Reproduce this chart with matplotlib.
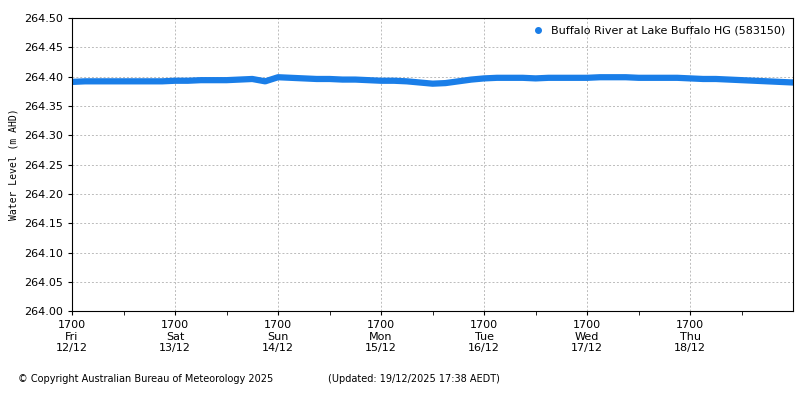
import matplotlib
matplotlib.use("Agg")
import matplotlib.pyplot as plt
import matplotlib.dates as mdates
import numpy as np
import pandas as pd

# 3-hourly water level readings from Fri 12/12 17:00
start = pd.Timestamp("2025-12-12 17:00")
levels = [
    264.391, 264.392, 264.392, 264.392, 264.392, 264.392, 264.392, 264.392,
    264.393, 264.393, 264.394, 264.394, 264.394, 264.395, 264.396, 264.392,
    264.399, 264.398, 264.397, 264.396, 264.396, 264.395, 264.395, 264.394,
    264.393, 264.393, 264.392, 264.390, 264.388, 264.389, 264.392, 264.395,
    264.397, 264.398, 264.398, 264.398, 264.397, 264.398, 264.398, 264.398,
    264.398, 264.399, 264.399, 264.399, 264.398, 264.398, 264.398, 264.398,
    264.397, 264.396, 264.396, 264.395, 264.394, 264.393, 264.392, 264.391,
    264.390,
]
times = pd.date_range(start, periods=len(levels), freq="3h")
day_labels = ["1700\nFri\n12/12", "1700\nSat\n13/12", "1700\nSun\n14/12", "1700\nMon\n15/12",
              "1700\nTue\n16/12", "1700\nWed\n17/12", "1700\nThu\n18/12"]
yticks = np.arange(264.00, 264.501, 0.05)

fig = plt.figure(figsize=(8, 4), dpi=100)
ax = fig.add_axes([0.09, 0.222, 0.9015, 0.733])
blue = "#1a7ee8"
ax.plot(times, levels, color=blue, lw=4.5, solid_capstyle="round")
ax.plot([], [], "o", color=blue, ms=4, label="Buffalo River at Lake Buffalo HG (583150)")
ax.legend(loc="upper right", frameon=False, fontsize=8, handletextpad=0.2, borderaxespad=0.3)

ax.set_ylim(264.0, 264.5)
ax.set_yticks(yticks)
ax.set_yticklabels([f"{v:.2f}" for v in yticks], fontsize=8)
ax.set_xlim(start, start + pd.Timedelta(days=7))
major = [start + pd.Timedelta(days=i) for i in range(7)]
ax.set_xticks(major)
ax.set_xticklabels(day_labels, fontsize=8)
ax.set_xticks([start + pd.Timedelta(hours=12 + 24 * i) for i in range(7)], minor=True)
ax.tick_params(which="both", direction="out", length=3)
ax.grid(True, which="major", ls=(0, (2, 2)), color="#bbbbbb", lw=0.7)
ax.set_ylabel("Water Level (m AHD)", fontsize=7, family="DejaVu Sans Mono")

fig.text(0.022, 0.045, "© Copyright Australian Bureau of Meteorology 2025", fontsize=7)
fig.text(0.41, 0.045, "(Updated: 19/12/2025 17:38 AEDT)", fontsize=7)
fig.savefig("out.png")
